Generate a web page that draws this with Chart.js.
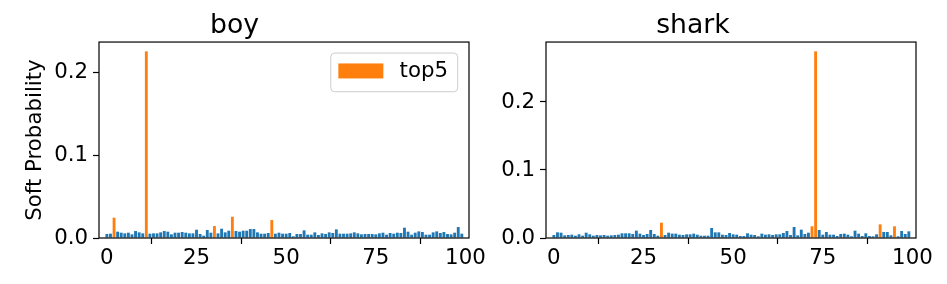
<!DOCTYPE html>
<html>
<head>
<meta charset="utf-8">
<script src="https://cdn.jsdelivr.net/npm/chart.js@4.4.0/dist/chart.umd.min.js"></script>
<style>
  html, body { margin: 0; padding: 0; background: #fff; }
  #wrap { position: relative; width: 947px; height: 284px; overflow: hidden; }
  canvas { position: absolute; top: 0; }
</style>
</head>
<body>
<div id="wrap">
  <canvas id="boyChart" width="500" height="284" style="left:0px"></canvas>
  <canvas id="sharkChart" width="477" height="284" style="left:470px"></canvas>
</div>
<script>
// --- Data ---
const panelTitles = ['boy', 'shark'];
const yAxisLabel = 'Soft Probability';
const legendLabel = 'top5';
const xTickValues = [0, 25, 50, 75, 100];
const yTickValues = [0, 0.1, 0.2];

const boyProbs = [
    0.0048, 0.0052, 0.0245, 0.0076, 0.0064, 0.0056, 0.0064, 0.0044, 0.0084, 0.0068,
    0.0056, 0.2250, 0.0052, 0.0056, 0.0056, 0.0068, 0.0084, 0.0076, 0.0044, 0.0064,
    0.0064, 0.0072, 0.0064, 0.0056, 0.0056, 0.0100, 0.0048, 0.0028, 0.0096, 0.0064,
    0.0144, 0.0056, 0.0112, 0.0068, 0.0088, 0.0256, 0.0084, 0.0076, 0.0088, 0.0088,
    0.0108, 0.0108, 0.0068, 0.0052, 0.0052, 0.0060, 0.0216, 0.0052, 0.0064, 0.0052,
    0.0052, 0.0060, 0.0020, 0.0048, 0.0048, 0.0092, 0.0040, 0.0040, 0.0068, 0.0036,
    0.0056, 0.0048, 0.0068, 0.0060, 0.0104, 0.0052, 0.0052, 0.0052, 0.0056, 0.0068,
    0.0056, 0.0044, 0.0048, 0.0048, 0.0048, 0.0044, 0.0056, 0.0064, 0.0040, 0.0060,
    0.0052, 0.0064, 0.0060, 0.0124, 0.0076, 0.0040, 0.0064, 0.0080, 0.0072, 0.0040,
    0.0040, 0.0068, 0.0080, 0.0060, 0.0072, 0.0048, 0.0044, 0.0064, 0.0132, 0.0052
];
const boyTop5 = [2, 11, 30, 35, 46];

const sharkProbs = [
    0.0044, 0.0083, 0.0078, 0.0039, 0.0044, 0.0049, 0.0034, 0.0054, 0.0034, 0.0078,
    0.0054, 0.0034, 0.0044, 0.0039, 0.0044, 0.0034, 0.0039, 0.0044, 0.0049, 0.0069,
    0.0069, 0.0069, 0.0059, 0.0108, 0.0064, 0.0044, 0.0059, 0.0118, 0.0059, 0.0034,
    0.0225, 0.0044, 0.0078, 0.0064, 0.0064, 0.0049, 0.0044, 0.0054, 0.0054, 0.0064,
    0.0049, 0.0034, 0.0034, 0.0034, 0.0147, 0.0083, 0.0083, 0.0049, 0.0044, 0.0074,
    0.0054, 0.0049, 0.0029, 0.0029, 0.0069, 0.0049, 0.0044, 0.0025, 0.0064, 0.0049,
    0.0054, 0.0044, 0.0054, 0.0054, 0.0074, 0.0103, 0.0044, 0.0162, 0.0039, 0.0123,
    0.0059, 0.0078, 0.0172, 0.2744, 0.0118, 0.0049, 0.0088, 0.0049, 0.0049, 0.0029,
    0.0059, 0.0064, 0.0049, 0.0025, 0.0108, 0.0064, 0.0029, 0.0069, 0.0029, 0.0025,
    0.0054, 0.0201, 0.0088, 0.0088, 0.0039, 0.0172, 0.0025, 0.0103, 0.0059, 0.0098
];
const sharkTop5 = [30, 72, 73, 91, 95];

// --- Style ---
const FONT = "'DejaVu Sans', sans-serif";
const FS = 21.3;
const BLUE = '#1f77b4';
const ORANGE = '#ff7f0e';
const X_MIN = -2.2;
const X_MAX = 101;

Chart.defaults.font.family = FONT;
Chart.defaults.color = '#000';

// frame (all four spines) + matplotlib-like legend box
const framePlugin = {
    id: 'framePlugin',
    afterDatasetsDraw(chart, args, opts) {
        const ctx = chart.ctx;
        const a = chart.chartArea;
        ctx.save();
        ctx.strokeStyle = '#000';
        ctx.lineWidth = 1.2;
        ctx.strokeRect(a.left, a.top, a.right - a.left, a.bottom - a.top);

        if (opts.legend) {
            const ds = chart.data.datasets.find(d => d.inLegend);
            ctx.font = FS + 'px ' + FONT;
            const tw = ctx.measureText(ds.label).width;
            const w = 7.6 + 45 + 16.2 + tw + 9.7;
            const h = 38.7;
            const bx = a.right - 11.3 - w;
            const by = a.top + 11;
            ctx.beginPath();
            ctx.roundRect(bx, by, w, h, 4);
            ctx.fillStyle = 'rgba(255,255,255,0.8)';
            ctx.fill();
            ctx.strokeStyle = '#cccccc';
            ctx.lineWidth = 1;
            ctx.stroke();
            ctx.fillStyle = ds.backgroundColor;
            ctx.fillRect(bx + 7.6, by + 10.4, 45, 15);
            ctx.fillStyle = '#000';
            ctx.textBaseline = 'middle';
            ctx.textAlign = 'left';
            ctx.fillText(ds.label, bx + 7.6 + 45 + 16.2, by + 18.5);
        }
        ctx.restore();
    }
};

const makeChart = (canvasId, title, probs, top5, cfg) => {
    const idx = probs.map((p, i) => i);
    const rest = idx.filter(i => !top5.includes(i)).map(i => ({ x: i, y: probs[i] }));
    const top = top5.map(i => ({ x: i, y: probs[i] }));
    const yMax = Math.max(...probs) * 1.05;

    const ctx = document.getElementById(canvasId).getContext('2d');
    return new Chart(ctx, {
        type: 'bar',
        data: {
            datasets: [
                { label: 'all', data: rest, backgroundColor: BLUE, grouped: false,
                  barPercentage: 0.8, categoryPercentage: 1.0 },
                { label: legendLabel, data: top, backgroundColor: ORANGE, grouped: false,
                  barPercentage: 0.8, categoryPercentage: 1.0, inLegend: true }
            ]
        },
        options: {
            responsive: false,
            animation: false,
            layout: { padding: { left: 0, right: 31, top: 0, bottom: 0 } },
            plugins: {
                legend: { display: false },
                tooltip: { enabled: false },
                title: {
                    display: true,
                    text: title,
                    color: '#000',
                    font: { size: 26.7, weight: 'normal', family: FONT },
                    padding: { top: 10, bottom: 0 }
                },
                framePlugin: { legend: cfg.legend }
            },
            scales: {
                x: {
                    type: 'linear',
                    min: X_MIN,
                    max: X_MAX,
                    offset: false,
                    afterBuildTicks: (s) => { s.ticks = xTickValues.map(v => ({ value: v })); },
                    afterFit: (s) => { s.height = 46; },
                    grid: { drawOnChartArea: false, drawTicks: true, tickLength: 6,
                            tickWidth: 1.2, tickColor: '#000' },
                    border: { display: false },
                    ticks: { font: { size: FS }, color: '#000', padding: 2, maxRotation: 0,
                             callback: (v) => String(v) }
                },
                y: {
                    min: 0,
                    max: yMax,
                    afterBuildTicks: (s) => { s.ticks = yTickValues.map(v => ({ value: v })); },
                    afterFit: (s) => { s.width = cfg.axisWidth; },
                    grid: { drawOnChartArea: false, drawTicks: true, tickLength: 6,
                            tickWidth: 1.2, tickColor: '#000' },
                    border: { display: false },
                    ticks: { font: { size: FS }, color: '#000', padding: 5,
                             callback: (v) => Number(v).toFixed(1) },
                    title: {
                        display: cfg.yLabel,
                        text: yAxisLabel,
                        color: '#000',
                        font: { size: FS, family: FONT },
                        padding: { top: 23, bottom: 0 }
                    }
                }
            }
        },
        plugins: [framePlugin]
    });
};

document.addEventListener('DOMContentLoaded', () => {
    makeChart('boyChart', panelTitles[0], boyProbs, boyTop5, { axisWidth: 99, yLabel: true, legend: true });
    makeChart('sharkChart', panelTitles[1], sharkProbs, sharkTop5, { axisWidth: 76, yLabel: false, legend: false });
});
</script>
</body>
</html>
